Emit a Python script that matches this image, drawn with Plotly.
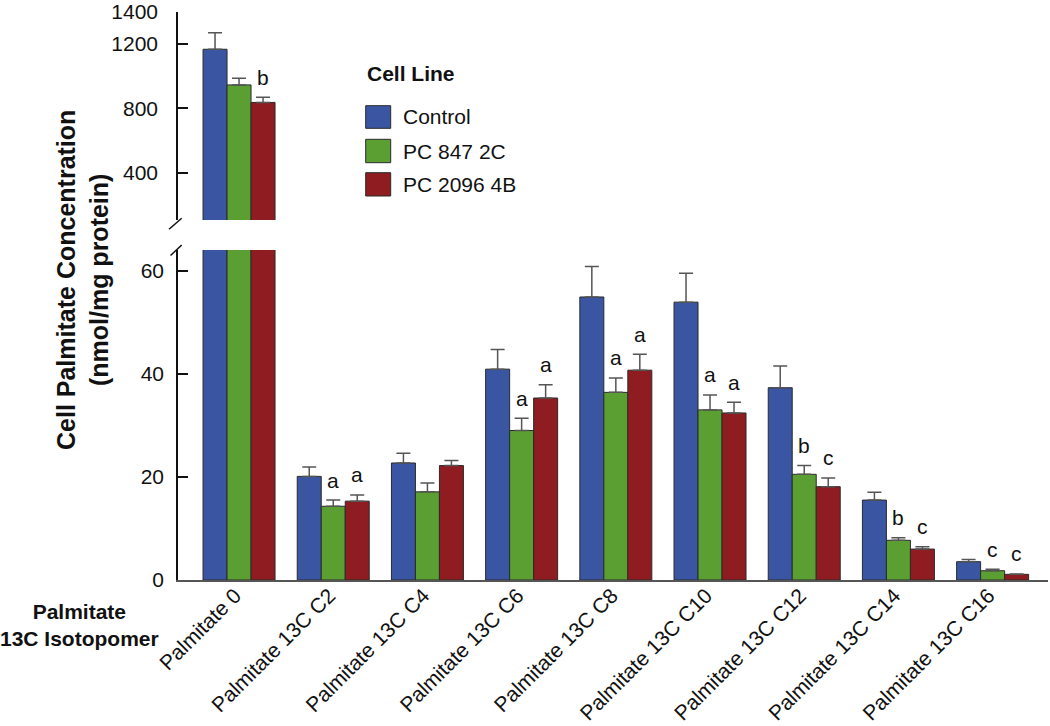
import plotly.graph_objects as go

categories = ["Palmitate 0", "Palmitate 13C C2", "Palmitate 13C C4", "Palmitate 13C C6",
              "Palmitate 13C C8", "Palmitate 13C C10", "Palmitate 13C C12",
              "Palmitate 13C C14", "Palmitate 13C C16"]
series_names = ["Control", "PC 847 2C", "PC 2096 4B"]

control = [1168, 20.1, 22.7, 40.9, 54.9, 53.9, 37.3, 15.5, 3.55]
control_err = [103, 1.8, 1.9, 3.8, 5.9, 5.6, 4.2, 1.5, 0.45]
pc847 = [946, 14.3, 17.1, 29.0, 36.4, 33.0, 20.5, 7.7, 1.8]
pc847_err = [41, 1.2, 1.7, 2.4, 2.8, 2.9, 1.7, 0.5, 0.27]
pc2096 = [837, 15.3, 22.2, 35.3, 40.7, 32.4, 18.1, 6.0, 1.1]
pc2096_err = [32, 1.2, 1.0, 2.6, 3.1, 2.1, 1.7, 0.45, 0.08]

control_sig = ["", "", "", "", "", "", "", "", ""]
pc847_sig = ["", "a", "", "a", "a", "a", "b", "b", "c"]
pc2096_sig = ["b", "a", "", "a", "a", "a", "c", "c", "c"]

bottom_ticks = [0, 20, 40, 60]
top_ticks = [400, 800, 1200, 1400]

colors = ["#3A55A1", "#5B9F32", "#8E1C21"]
values = [control, pc847, pc2096]
errors = [control_err, pc847_err, pc2096_err]
sigs = [control_sig, pc847_sig, pc2096_sig]

FONT = "Arial, Liberation Sans, Helvetica, sans-serif"
W, H = 1050, 726
L, R, T, B = 178, 2, 6, 146
PW, PH = W - L - R, H - T - B

def px(x):
    return (x - L) / PW

def py(y):
    return (H - B - y) / PH

BARGAP = 0.2357
bar_w = (1 - BARGAP) / 3
offsets = [-bar_w, 0.0, bar_w]

fig = go.Figure()
for yax in ["y", "y2"]:
    for name, vals, errs, col in zip(series_names, values, errors, colors):
        fig.add_trace(go.Bar(
            x=list(range(len(categories))), y=vals, name=name, yaxis=yax,
            marker=dict(color=col, line=dict(color="#2b2b2b", width=1)),
            error_y=dict(type="data", array=errs, arrayminus=[0] * len(errs),
                         symmetric=False, color="#555555", thickness=1.5, width=7),
            showlegend=False,
        ))

annotations = []
# significance letters
for k in range(3):
    for i, s in enumerate(sigs[k]):
        if not s:
            continue
        top = values[k][i] + errors[k][i]
        annotations.append(dict(
            x=i + offsets[k], y=top, xref="x", yref="y2" if top > 100 else "y",
            text=s, showarrow=False, yanchor="middle", yshift=20,
            font=dict(family=FONT, size=21, color="#111111")))

# legend (manual)
annotations.append(dict(x=px(365), y=py(73), xref="paper", yref="paper", text="<b>Cell Line</b>",
                        showarrow=False, xanchor="left", yanchor="middle",
                        font=dict(family=FONT, size=21, color="#111111")))
rows = [(105.7, 128.3), (139.3, 162.7), (172.7, 196.0)]
shapes = []
for (y0, y1), name, col in zip(rows, series_names, colors):
    shapes.append(dict(type="rect", xref="paper", yref="paper",
                       x0=px(365.7), x1=px(390.7), y0=py(y1), y1=py(y0),
                       fillcolor=col, line=dict(color="#2b2b2b", width=1)))
    annotations.append(dict(x=px(401), y=py((y0 + y1) / 2), xref="paper", yref="paper",
                            text=name, showarrow=False, xanchor="left", yanchor="middle",
                            font=dict(family=FONT, size=21, color="#111111")))

# axis titles
annotations.append(dict(x=px(82), y=py(280), xref="paper", yref="paper",
                        text="<b>Cell Palmitate Concentration<br>(nmol/mg protein)</b>",
                        textangle=-90, showarrow=False, xanchor="center", yanchor="middle",
                        font=dict(family=FONT, size=25, color="#111111")))
annotations.append(dict(x=px(79), y=py(625), xref="paper", yref="paper",
                        text="<b>Palmitate<br>13C Isotopomer</b>",
                        showarrow=False, xanchor="center", yanchor="middle",
                        font=dict(family=FONT, size=21, color="#111111")))

# axis break marks
for (x0, y0, x1, y1) in [(169, 229.3, 181.7, 218.3), (170.5, 255.5, 181.7, 245)]:
    shapes.append(dict(type="line", xref="paper", yref="paper",
                       x0=px(x0), y0=py(y0), x1=px(x1), y1=py(y1),
                       line=dict(color="#111111", width=1.5)))

bottom_top = 64.0
y_dom_top = (bottom_top * 5.155) / PH
y2_range = [105, 1400]
y2_dom_bottom = py(220)
y2_dom_top = py(12)

fig.update_layout(
    width=W, height=H,
    margin=dict(l=L, r=R, t=T, b=B, autoexpand=False),
    paper_bgcolor="white", plot_bgcolor="white",
    barmode="group", bargap=BARGAP, bargroupgap=0,
    font=dict(family=FONT, size=21, color="#111111"),
    xaxis=dict(
        tickmode="array", tickvals=list(range(len(categories))), ticktext=categories,
        tickangle=-45, range=[-0.648, 8.588], showline=True, linecolor="#555555",
        linewidth=2, ticks="", showgrid=False, zeroline=False, anchor="y",
        automargin=False, ticklabelshift=-4, ticklabelstandoff=-7,
        ticklabeloverflow="allow",
        tickfont=dict(family=FONT, size=21, color="#111111"),
    ),
    yaxis=dict(
        domain=[0, y_dom_top], range=[0, bottom_top], tickvals=bottom_ticks,
        ticks="inside", ticklen=10, tickcolor="#111111", tickwidth=1.5,
        showline=True, linecolor="#111111", linewidth=1.5, showgrid=False,
        zeroline=False, anchor="x", ticklabelstandoff=8, automargin=False,
        ticklabeloverflow="allow",
        tickfont=dict(family=FONT, size=21, color="#111111"),
    ),
    yaxis2=dict(
        domain=[y2_dom_bottom, y2_dom_top], range=y2_range, tickvals=top_ticks,
        ticks="inside", ticklen=10, tickcolor="#111111", tickwidth=1.5,
        showline=True, linecolor="#111111", linewidth=1.5, showgrid=False,
        zeroline=False, anchor="x", ticklabelstandoff=14, automargin=False,
        ticklabeloverflow="allow",
        tickfont=dict(family=FONT, size=21, color="#111111"),
    ),
    annotations=annotations,
    shapes=shapes,
    showlegend=False,
)

fig.write_html(
    "out.html",
    config={"displayModeBar": False},
    post_script="document.body.style.margin='0px';document.body.style.overflow='hidden';",
)
